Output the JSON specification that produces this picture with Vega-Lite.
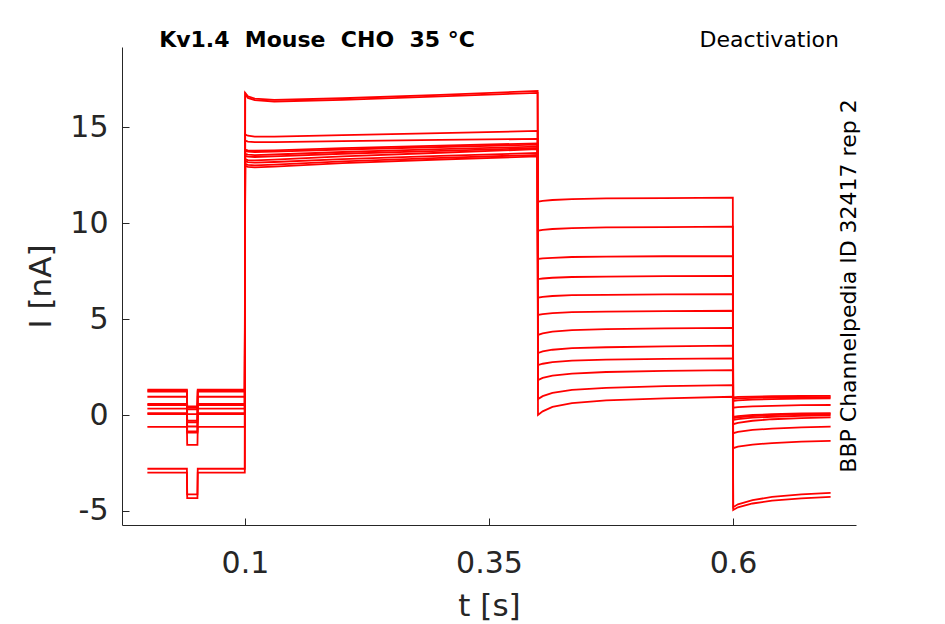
{
  "$schema": "https://vega.github.io/schema/vega-lite/v6.json",
  "width": 734,
  "height": 478,
  "autosize": "none",
  "padding": {"left": 122, "top": 47, "right": 89, "bottom": 99},
  "background": "white",
  "config": {"view": {"stroke": null}, "font": "DejaVu Sans"},
  "layer": [
    {
      "data": {"values": [
        {"s":1,"t":0,"i":1.32},{"s":1,"t":0.0405,"i":1.32},{"s":1,"t":0.0408,"i":0.45},{"s":1,"t":0.0513,"i":0.45},{"s":1,"t":0.0516,"i":1.32},{"s":1,"t":0.0998,"i":1.32},
        {"s":1,"t":0.1002,"i":16.78},{"s":1,"t":0.103,"i":16.6},{"s":1,"t":0.11,"i":16.48},{"s":1,"t":0.13,"i":16.42},{"s":1,"t":0.2,"i":16.5},{"s":1,"t":0.3,"i":16.68},{"s":1,"t":0.3998,"i":16.88},
        {"s":1,"t":0.4002,"i":11.11},{"s":1,"t":0.405,"i":11.15},{"s":1,"t":0.415,"i":11.2},{"s":1,"t":0.435,"i":11.25},{"s":1,"t":0.47,"i":11.28},{"s":1,"t":0.53,"i":11.3},{"s":1,"t":0.5998,"i":11.32},
        {"s":1,"t":0.6002,"i":0.92},{"s":1,"t":0.605,"i":0.94},{"s":1,"t":0.62,"i":0.96},{"s":1,"t":0.64,"i":0.98},{"s":1,"t":0.67,"i":0.99},{"s":1,"t":0.7,"i":1.0},

        {"s":2,"t":0,"i":1.27},{"s":2,"t":0.0405,"i":1.27},{"s":2,"t":0.0408,"i":0.38},{"s":2,"t":0.0513,"i":0.38},{"s":2,"t":0.0516,"i":1.27},{"s":2,"t":0.0998,"i":1.27},
        {"s":2,"t":0.1002,"i":16.72},{"s":2,"t":0.103,"i":16.52},{"s":2,"t":0.11,"i":16.4},{"s":2,"t":0.13,"i":16.33},{"s":2,"t":0.2,"i":16.42},{"s":2,"t":0.3,"i":16.6},{"s":2,"t":0.3998,"i":16.78},
        {"s":2,"t":0.4002,"i":9.6},{"s":2,"t":0.405,"i":9.64},{"s":2,"t":0.415,"i":9.69},{"s":2,"t":0.435,"i":9.74},{"s":2,"t":0.47,"i":9.77},{"s":2,"t":0.53,"i":9.79},{"s":2,"t":0.5998,"i":9.81},
        {"s":2,"t":0.6002,"i":0.85},{"s":2,"t":0.605,"i":0.87},{"s":2,"t":0.62,"i":0.89},{"s":2,"t":0.64,"i":0.91},{"s":2,"t":0.67,"i":0.92},{"s":2,"t":0.7,"i":0.93},

        {"s":3,"t":0,"i":1.22},{"s":3,"t":0.0405,"i":1.22},{"s":3,"t":0.0408,"i":0.3},{"s":3,"t":0.0513,"i":0.3},{"s":3,"t":0.0516,"i":1.22},{"s":3,"t":0.0998,"i":1.22},
        {"s":3,"t":0.1002,"i":14.62},{"s":3,"t":0.103,"i":14.55},{"s":3,"t":0.11,"i":14.5},{"s":3,"t":0.13,"i":14.5},{"s":3,"t":0.2,"i":14.58},{"s":3,"t":0.3,"i":14.68},{"s":3,"t":0.3998,"i":14.8},
        {"s":3,"t":0.4002,"i":8.13},{"s":3,"t":0.405,"i":8.16},{"s":3,"t":0.415,"i":8.19},{"s":3,"t":0.435,"i":8.23},{"s":3,"t":0.47,"i":8.25},{"s":3,"t":0.53,"i":8.27},{"s":3,"t":0.5998,"i":8.28},
        {"s":3,"t":0.6002,"i":0.73},{"s":3,"t":0.605,"i":0.76},{"s":3,"t":0.62,"i":0.8},{"s":3,"t":0.64,"i":0.83},{"s":3,"t":0.67,"i":0.86},{"s":3,"t":0.7,"i":0.87},

        {"s":4,"t":0,"i":0.95},{"s":4,"t":0.0405,"i":0.95},{"s":4,"t":0.0408,"i":0.05},{"s":4,"t":0.0513,"i":0.05},{"s":4,"t":0.0516,"i":0.95},{"s":4,"t":0.0998,"i":0.95},
        {"s":4,"t":0.1002,"i":14.3},{"s":4,"t":0.103,"i":14.24},{"s":4,"t":0.11,"i":14.21},{"s":4,"t":0.13,"i":14.21},{"s":4,"t":0.2,"i":14.27},{"s":4,"t":0.3,"i":14.33},{"s":4,"t":0.3998,"i":14.38},
        {"s":4,"t":0.4002,"i":7.08},{"s":4,"t":0.405,"i":7.11},{"s":4,"t":0.415,"i":7.15},{"s":4,"t":0.435,"i":7.19},{"s":4,"t":0.47,"i":7.21},{"s":4,"t":0.53,"i":7.23},{"s":4,"t":0.5998,"i":7.24},
        {"s":4,"t":0.6002,"i":0.38},{"s":4,"t":0.605,"i":0.41},{"s":4,"t":0.62,"i":0.45},{"s":4,"t":0.64,"i":0.48},{"s":4,"t":0.67,"i":0.51},{"s":4,"t":0.7,"i":0.52},

        {"s":5,"t":0,"i":0.58},{"s":5,"t":0.0405,"i":0.58},{"s":5,"t":0.0408,"i":-0.3},{"s":5,"t":0.0513,"i":-0.3},{"s":5,"t":0.0516,"i":0.58},{"s":5,"t":0.0998,"i":0.58},
        {"s":5,"t":0.1002,"i":13.82},{"s":5,"t":0.103,"i":13.79},{"s":5,"t":0.11,"i":13.77},{"s":5,"t":0.13,"i":13.79},{"s":5,"t":0.2,"i":13.9},{"s":5,"t":0.3,"i":14.03},{"s":5,"t":0.3998,"i":14.15},
        {"s":5,"t":0.4002,"i":6.11},{"s":5,"t":0.405,"i":6.15},{"s":5,"t":0.415,"i":6.2},{"s":5,"t":0.435,"i":6.24},{"s":5,"t":0.47,"i":6.26},{"s":5,"t":0.53,"i":6.28},{"s":5,"t":0.5998,"i":6.3},
        {"s":5,"t":0.6002,"i":-0.1},{"s":5,"t":0.605,"i":-0.06},{"s":5,"t":0.62,"i":0.0},{"s":5,"t":0.64,"i":0.04},{"s":5,"t":0.67,"i":0.08},{"s":5,"t":0.7,"i":0.1},

        {"s":6,"t":0,"i":0.52},{"s":6,"t":0.0405,"i":0.52},{"s":6,"t":0.0408,"i":-0.38},{"s":6,"t":0.0513,"i":-0.38},{"s":6,"t":0.0516,"i":0.52},{"s":6,"t":0.0998,"i":0.52},
        {"s":6,"t":0.1002,"i":13.76},{"s":6,"t":0.103,"i":13.72},{"s":6,"t":0.11,"i":13.7},{"s":6,"t":0.13,"i":13.72},{"s":6,"t":0.2,"i":13.83},{"s":6,"t":0.3,"i":13.96},{"s":6,"t":0.3998,"i":14.08},
        {"s":6,"t":0.4002,"i":5.21},{"s":6,"t":0.405,"i":5.26},{"s":6,"t":0.415,"i":5.31},{"s":6,"t":0.435,"i":5.36},{"s":6,"t":0.47,"i":5.39},{"s":6,"t":0.53,"i":5.41},{"s":6,"t":0.5998,"i":5.43},
        {"s":6,"t":0.6002,"i":-0.16},{"s":6,"t":0.605,"i":-0.12},{"s":6,"t":0.62,"i":-0.06},{"s":6,"t":0.64,"i":-0.01},{"s":6,"t":0.67,"i":0.03},{"s":6,"t":0.7,"i":0.05},

        {"s":7,"t":0,"i":0.33},{"s":7,"t":0.0405,"i":0.33},{"s":7,"t":0.0408,"i":-0.6},{"s":7,"t":0.0513,"i":-0.6},{"s":7,"t":0.0516,"i":0.33},{"s":7,"t":0.0998,"i":0.33},
        {"s":7,"t":0.1002,"i":13.6},{"s":7,"t":0.103,"i":13.56},{"s":7,"t":0.11,"i":13.54},{"s":7,"t":0.13,"i":13.57},{"s":7,"t":0.2,"i":13.7},{"s":7,"t":0.3,"i":13.85},{"s":7,"t":0.3998,"i":13.98},
        {"s":7,"t":0.4002,"i":4.17},{"s":7,"t":0.405,"i":4.25},{"s":7,"t":0.415,"i":4.34},{"s":7,"t":0.435,"i":4.42},{"s":7,"t":0.47,"i":4.47},{"s":7,"t":0.53,"i":4.51},{"s":7,"t":0.5998,"i":4.54},
        {"s":7,"t":0.6002,"i":-0.26},{"s":7,"t":0.605,"i":-0.21},{"s":7,"t":0.62,"i":-0.14},{"s":7,"t":0.64,"i":-0.09},{"s":7,"t":0.67,"i":-0.04},{"s":7,"t":0.7,"i":-0.02},

        {"s":8,"t":0,"i":0.1},{"s":8,"t":0.0405,"i":0.1},{"s":8,"t":0.0408,"i":-0.85},{"s":8,"t":0.0513,"i":-0.85},{"s":8,"t":0.0516,"i":0.1},{"s":8,"t":0.0998,"i":0.1},
        {"s":8,"t":0.1002,"i":13.5},{"s":8,"t":0.103,"i":13.46},{"s":8,"t":0.11,"i":13.44},{"s":8,"t":0.13,"i":13.47},{"s":8,"t":0.2,"i":13.61},{"s":8,"t":0.3,"i":13.76},{"s":8,"t":0.3998,"i":13.9},
        {"s":8,"t":0.4002,"i":3.23},{"s":8,"t":0.405,"i":3.31},{"s":8,"t":0.415,"i":3.4},{"s":8,"t":0.435,"i":3.48},{"s":8,"t":0.47,"i":3.53},{"s":8,"t":0.53,"i":3.58},{"s":8,"t":0.5998,"i":3.61},
        {"s":8,"t":0.6002,"i":-0.48},{"s":8,"t":0.605,"i":-0.41},{"s":8,"t":0.62,"i":-0.3},{"s":8,"t":0.64,"i":-0.22},{"s":8,"t":0.67,"i":-0.16},{"s":8,"t":0.7,"i":-0.12},

        {"s":9,"t":0,"i":0.05},{"s":9,"t":0.0405,"i":0.05},{"s":9,"t":0.0408,"i":-0.92},{"s":9,"t":0.0513,"i":-0.92},{"s":9,"t":0.0516,"i":0.05},{"s":9,"t":0.0998,"i":0.05},
        {"s":9,"t":0.1002,"i":13.32},{"s":9,"t":0.103,"i":13.28},{"s":9,"t":0.11,"i":13.26},{"s":9,"t":0.13,"i":13.3},{"s":9,"t":0.2,"i":13.47},{"s":9,"t":0.3,"i":13.66},{"s":9,"t":0.3998,"i":13.85},
        {"s":9,"t":0.4002,"i":2.6},{"s":9,"t":0.405,"i":2.67},{"s":9,"t":0.415,"i":2.75},{"s":9,"t":0.435,"i":2.83},{"s":9,"t":0.47,"i":2.88},{"s":9,"t":0.53,"i":2.92},{"s":9,"t":0.5998,"i":2.95},
        {"s":9,"t":0.6002,"i":-0.95},{"s":9,"t":0.605,"i":-0.88},{"s":9,"t":0.62,"i":-0.78},{"s":9,"t":0.64,"i":-0.71},{"s":9,"t":0.67,"i":-0.64},{"s":9,"t":0.7,"i":-0.61},

        {"s":10,"t":0,"i":-0.62},{"s":10,"t":0.0405,"i":-0.62},{"s":10,"t":0.0408,"i":-1.56},{"s":10,"t":0.0513,"i":-1.56},{"s":10,"t":0.0516,"i":-0.62},{"s":10,"t":0.0998,"i":-0.62},
        {"s":10,"t":0.1002,"i":13.22},{"s":10,"t":0.103,"i":13.17},{"s":10,"t":0.11,"i":13.15},{"s":10,"t":0.13,"i":13.18},{"s":10,"t":0.2,"i":13.33},{"s":10,"t":0.3,"i":13.5},{"s":10,"t":0.3998,"i":13.65},
        {"s":10,"t":0.4002,"i":1.82},{"s":10,"t":0.405,"i":1.93},{"s":10,"t":0.415,"i":2.05},{"s":10,"t":0.435,"i":2.16},{"s":10,"t":0.47,"i":2.24},{"s":10,"t":0.53,"i":2.3},{"s":10,"t":0.5998,"i":2.34},
        {"s":10,"t":0.6002,"i":-1.73},{"s":10,"t":0.605,"i":-1.65},{"s":10,"t":0.62,"i":-1.54},{"s":10,"t":0.64,"i":-1.46},{"s":10,"t":0.67,"i":-1.39},{"s":10,"t":0.7,"i":-1.35},

        {"s":11,"t":0,"i":-2.8},{"s":11,"t":0.0405,"i":-2.8},{"s":11,"t":0.0408,"i":-4.13},{"s":11,"t":0.0513,"i":-4.13},{"s":11,"t":0.0516,"i":-2.8},{"s":11,"t":0.0998,"i":-2.8},
        {"s":11,"t":0.1002,"i":13.08},{"s":11,"t":0.103,"i":13.03},{"s":11,"t":0.11,"i":13.0},{"s":11,"t":0.13,"i":13.04},{"s":11,"t":0.2,"i":13.21},{"s":11,"t":0.3,"i":13.39},{"s":11,"t":0.3998,"i":13.55},
        {"s":11,"t":0.4002,"i":0.83},{"s":11,"t":0.405,"i":0.98},{"s":11,"t":0.415,"i":1.15},{"s":11,"t":0.435,"i":1.31},{"s":11,"t":0.47,"i":1.41},{"s":11,"t":0.53,"i":1.5},{"s":11,"t":0.5998,"i":1.56},
        {"s":11,"t":0.6002,"i":-4.8},{"s":11,"t":0.605,"i":-4.65},{"s":11,"t":0.62,"i":-4.43},{"s":11,"t":0.64,"i":-4.27},{"s":11,"t":0.67,"i":-4.13},{"s":11,"t":0.7,"i":-4.06},

        {"s":12,"t":0,"i":-3.0},{"s":12,"t":0.0405,"i":-3.0},{"s":12,"t":0.0408,"i":-4.33},{"s":12,"t":0.0513,"i":-4.33},{"s":12,"t":0.0516,"i":-3.0},{"s":12,"t":0.0998,"i":-3.0},
        {"s":12,"t":0.1002,"i":12.98},{"s":12,"t":0.103,"i":12.93},{"s":12,"t":0.11,"i":12.9},{"s":12,"t":0.13,"i":12.94},{"s":12,"t":0.2,"i":13.12},{"s":12,"t":0.3,"i":13.31},{"s":12,"t":0.3998,"i":13.47},
        {"s":12,"t":0.4002,"i":0.0},{"s":12,"t":0.405,"i":0.19},{"s":12,"t":0.415,"i":0.42},{"s":12,"t":0.435,"i":0.62},{"s":12,"t":0.47,"i":0.76},{"s":12,"t":0.53,"i":0.87},{"s":12,"t":0.5998,"i":0.95},
        {"s":12,"t":0.6002,"i":-4.95},{"s":12,"t":0.605,"i":-4.81},{"s":12,"t":0.62,"i":-4.61},{"s":12,"t":0.64,"i":-4.46},{"s":12,"t":0.67,"i":-4.34},{"s":12,"t":0.7,"i":-4.27}
      ]},
      "mark": {"type": "line", "color": "#ff0000", "strokeWidth": 1.8, "clip": true},
      "encoding": {
        "x": {
          "field": "t",
          "type": "quantitative",
          "scale": {"domain": [-0.026, 0.726], "nice": false, "zero": false},
          "axis": {
            "title": "t [s]",
            "values": [0.1, 0.35, 0.6],
            "labelExpr": "'' + datum.value",
            "grid": false,
            "domainColor": "#262626",
            "tickColor": "#262626",
            "tickSize": -7,
            "labelFont": "DejaVu Sans",
            "labelFontSize": 30,
            "labelColor": "#262626",
            "labelPadding": 30.6,
            "titleFont": "DejaVu Sans",
            "titleFontSize": 31,
            "titleFontWeight": "normal",
            "titleColor": "#262626",
            "titlePadding": 13
          }
        },
        "y": {
          "field": "i",
          "type": "quantitative",
          "scale": {"domain": [-5.73, 19.17], "nice": false, "zero": false},
          "axis": {
            "title": "I [nA]",
            "values": [-5, 0, 5, 10, 15],
            "labelExpr": "'' + datum.value",
            "grid": false,
            "domainColor": "#262626",
            "tickColor": "#262626",
            "tickSize": -7,
            "labelFont": "DejaVu Sans",
            "labelFontSize": 30,
            "labelColor": "#262626",
            "labelPadding": 21,
            "titleFont": "DejaVu Sans",
            "titleFontSize": 31,
            "titleFontWeight": "normal",
            "titleColor": "#262626",
            "titlePadding": 12
          }
        },
        "detail": {"field": "s", "type": "nominal"}
      }
    },
    {
      "data": {"values": [{}]},
      "mark": {"type": "text", "font": "DejaVu Sans", "fontSize": 22, "fontWeight": "bold", "color": "black", "align": "center", "baseline": "alphabetic"},
      "encoding": {
        "x": {"datum": 0.1738, "type": "quantitative"},
        "y": {"datum": 19.15, "type": "quantitative"},
        "text": {"value": "Kv1.4\u00a0 Mouse\u00a0 CHO\u00a0 35 °C"}
      }
    },
    {
      "data": {"values": [{}]},
      "mark": {"type": "text", "font": "DejaVu Sans", "fontSize": 22, "color": "black", "align": "right", "baseline": "alphabetic"},
      "encoding": {
        "x": {"datum": 0.7086, "type": "quantitative"},
        "y": {"datum": 19.15, "type": "quantitative"},
        "text": {"value": "Deactivation"}
      }
    },
    {
      "data": {"values": [{}]},
      "mark": {"type": "text", "font": "DejaVu Sans", "fontSize": 22, "color": "black", "align": "center", "baseline": "middle", "angle": 270},
      "encoding": {
        "x": {"datum": 0.7189, "type": "quantitative"},
        "y": {"datum": 6.72, "type": "quantitative"},
        "text": {"value": "BBP Channelpedia ID 32417 rep 2"}
      }
    }
  ]
}
